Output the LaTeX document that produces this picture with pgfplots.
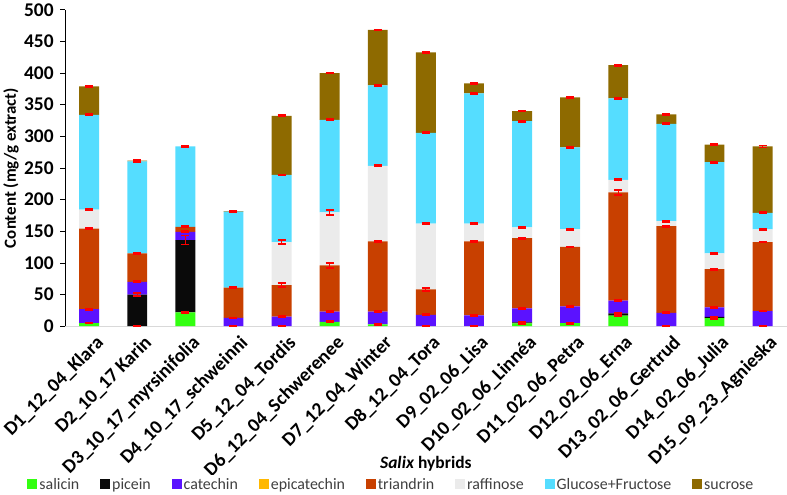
\documentclass[border=0pt]{standalone}
\usepackage{fontspec}
\setmainfont{Carlito}
\usepackage{pgfplots}
\usepackage{pgfplotstable}
\pgfplotsset{compat=1.18}
\definecolor{csal}{HTML}{33FF11}
\definecolor{cpic}{HTML}{0A0A0A}
\definecolor{ccat}{HTML}{5B12FF}
\definecolor{cepi}{HTML}{FFB800}
\definecolor{ctri}{HTML}{C84000}
\definecolor{craf}{HTML}{EBEBEB}
\definecolor{cglu}{HTML}{55DDFF}
\definecolor{csuc}{HTML}{8E6A00}
\pgfplotstableread{
x sal salE pic picE cat catE epi epiE tri triE raf rafE glu gluE suc sucE
1 5 1 0 0 22 1 0 0 127 1 30 1 150 1 45 1
2 0 1 50 2 20 1 0 0 45 1 0 0 145.5 1 1 2
3 22 1 114 7 13 1 0 0 8 1 0 0 127 1 0 1
4 0 1 0 0 13 1 0 0 48 1 0 0 120 1 1 1
5 0 0 0 0 15 1 0 0 50 3 68 3 106 1 93.5 1
6 7 1 0 0 16 1 0 0 73 4 84 4 146 1 74 1
7 3 1 0 0 20 1 0 0 111 1 119.5 1 127 1 87.5 1
8 0 1 0 0 18 1 0 0 40 2 104 1 143.5 1 127 1
9 0 0 0 0 17 1 0 0 117 1 28 1 206 1 15.6 1
10 4.5 1 1.5 1 22 1 0 0 111 1 17 1 168 1 16 1
11 4.7 1 0 0 26.5 1 0 0 94 1 28 1 129.5 1 79 1
12 16.8 1 3.5 1 20 1 0 0 171 4 20 1 128.5 1 52.5 1
13 0 0 0 0 21 1 0 0 137 1 8 1 153.7 1 15 1
14 12.6 1 2 1 15 1 0 0 60.5 1 25 1 144 1 27.6 1
15 0 1 0 0 24 1 0 0 109 1 20 1 26 1 105 1.5
}\data
\begin{document}
\begin{tikzpicture}
\begin{axis}[
  scale only axis, width=725pt, height=318pt,
  ybar stacked, bar width=20pt,
  xmin=0.5, xmax=15.5, ymin=0, ymax=500,
  xtick={1,...,15},
  xticklabels={D1\_12\_04\_Klara, D2\_10\_17 Karin, D3\_10\_17\_myrsinifolia, D4\_10\_17\_schweinni, D5\_12\_04\_Tordis, D6\_12\_04\_Schwerenee, D7\_12\_04\_Winter, D8\_12\_04\_Tora, D9\_02\_06\_Lisa, D10\_02\_06\_Linnéa, D11\_02\_06\_Petra, D12\_02\_06\_Erna, D13\_02\_06\_Gertrud, D14\_02\_06\_Julia, D15\_09\_23\_Agnieska},
  ytick={0,50,...,500},
  axis x line*=bottom, axis y line*=left,
  x axis line style={draw=black!15, line width=0.8pt},
  y axis line style={draw=black, line width=0.6pt},
  xtick style={draw=none},
  ytick style={draw=black, line width=0.6pt},
  tick align=outside, major tick length=5pt,
  /pgf/number format/assume math mode=true,
  yticklabel style={font=\bfseries\fontsize{19.5}{19.5}\selectfont, xshift=-3pt},
  xticklabel style={font=\bfseries\fontsize{19.5}{19.5}\selectfont, rotate=45, anchor=north east, inner sep=1pt, xshift=3pt, yshift=-5pt},
  ylabel={\bfseries Content (mg/g extract)},
  ylabel style={font=\fontsize{17}{18}\selectfont, at={(axis description cs:-0.075,0.5)}, anchor=center},
  xlabel={\bfseries\textit{Salix} hybrids},
  xlabel style={font=\fontsize{17.5}{18}\selectfont, at={(axis description cs:0.5,-0.434)}, anchor=center},
  legend columns=8,
  legend style={draw=none, at={(axis description cs:-0.0566,-0.5)}, anchor=west,
    font=\fontsize{16}{17}\selectfont, text=black!75,
    /tikz/every odd column/.append style={column sep=1pt},
    /tikz/every even column/.append style={column sep=20pt},
    nodes={inner sep=1pt}},
  legend image code/.code={\fill[#1] (0pt,-5pt) rectangle (10pt,5pt);},
  error bars/y dir=both, error bars/y explicit,
  error bars/error bar style={draw=red, line width=1pt},
  error bars/error mark options={draw=red, line width=1.6pt, mark size=4pt, rotate=90},
]
\addplot[fill=csal, draw=none] table[x=x, y=sal, y error=salE]{\data};
\addplot[fill=cpic, draw=none] table[x=x, y=pic, y error=picE]{\data};
\addplot[fill=ccat, draw=none] table[x=x, y=cat, y error=catE]{\data};
\addplot[fill=cepi, draw=none] table[x=x, y=epi, y error=epiE]{\data};
\addplot[fill=ctri, draw=none] table[x=x, y=tri, y error=triE]{\data};
\addplot[fill=craf, draw=none] table[x=x, y=raf, y error=rafE]{\data};
\addplot[fill=cglu, draw=none] table[x=x, y=glu, y error=gluE]{\data};
\addplot[fill=csuc, draw=none] table[x=x, y=suc, y error=sucE]{\data};
\legend{\strut salicin, \strut picein, \strut catechin, \strut epicatechin, \strut triandrin, \strut raffinose, \strut Glucose+Fructose, \strut sucrose}
\end{axis}
\end{tikzpicture}
\end{document}
